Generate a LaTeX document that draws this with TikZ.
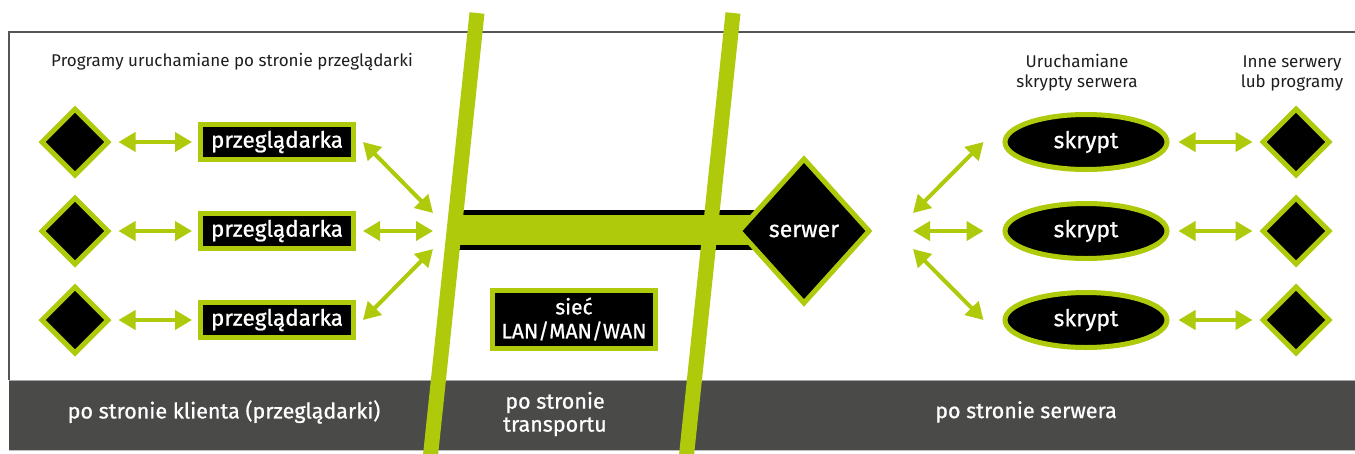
\documentclass[tikz,border=0pt]{standalone}
\usepackage{fontspec}
\setmainfont{Fira Sans}
\newfontfamily\medfont{Fira Sans}[FakeBold=0.8]
\usetikzlibrary{shapes.geometric,arrows.meta}
\definecolor{gr}{RGB}{175,202,11}
\definecolor{barg}{RGB}{74,74,73}
\definecolor{framec}{RGB}{85,85,85}
\definecolor{txtc}{RGB}{30,30,30}
\begin{document}
\begin{tikzpicture}[x=1pt,y=-1pt,
  dia/.style={diamond,fill=black,draw=gr,line width=5pt,minimum width=68pt,minimum height=68pt,inner sep=0pt},
  brow/.style={rectangle,fill=black,draw=gr,line width=5pt,minimum width=153pt,minimum height=35pt,inner sep=0pt,text=white,font=\medfont\fontsize{22.5}{24}\selectfont},
  scr/.style={ellipse,fill=black,draw=gr,line width=5pt,minimum width=162pt,minimum height=55pt,inner sep=0pt,text=white,font=\medfont\fontsize{23}{24}\selectfont},
  arr/.style={draw=gr,line width=4pt,{Triangle[width=19pt,length=17pt]}-{Triangle[width=19pt,length=17pt]}},
  lbl/.style={text=txtc,font=\fontsize{17}{20}\selectfont,align=center},
  bartxt/.style={text=white,font=\medfont\fontsize{21.5}{23}\selectfont,align=center},
  slant/.style={draw=gr,line width=15pt}
]
\useasboundingbox (0,0) rectangle (1355,453);
\fill[white] (0,0) rectangle (1355,453);
% bottom bar
\fill[barg] (9,380) rectangle (1355,450);
\draw[black!35,line width=1pt] (9,380) -- (1355,380);
\draw[black!25,line width=1pt] (9,450) -- (1355,450);
% frame
\draw[framec,line width=1.5pt] (1360,32) -- (9,32) -- (9,380);
% network bar
\draw[fill=gr,draw=black,line width=5pt] (455,212.5) rectangle (803,247.5);
% slanted separators
\draw[slant] (477,13) -- (430,460);
\draw[slant] (733,13) -- (686,460);

% labels
\node[lbl] (t1) at (232,62) {Programy uruchamiane po stronie przeglądarki};
\node[lbl] (t2) at (1077,73) {Uruchamiane\\skrypty serwera};
\node[lbl] (t3) at (1292,73) {Inne serwery\\lub programy};

% left side
\node[dia] (d1) at (75,142) {};
\node[dia] (d2) at (75,231) {};
\node[dia] (d3) at (75,320) {};
\node[brow] (b1) at (277,142) {przeglądarka};
\node[brow] (b2) at (277,231) {przeglądarka};
\node[brow] (b3) at (277,320) {przeglądarka};
\coordinate (l1) at (433,213);
\coordinate (l2) at (433,231);
\coordinate (l3) at (433,249);

% network
\node[brow,minimum width=163pt,minimum height=58pt,align=center,font=\medfont\fontsize{21}{24}\selectfont] (net) at (574,319) {sieć\\LAN/MAN/WAN};

% server
\node[dia,minimum width=132pt,minimum height=146pt,text=white,font=\medfont\fontsize{23}{24}\selectfont] (srv) at (804,231) {serwer};
\coordinate (r1) at (913,213);
\coordinate (r2) at (913,231);
\coordinate (r3) at (913,249);

% scripts
\node[scr] (s1) at (1086,142) {skrypt};
\node[scr] (s2) at (1086,231) {skrypt};
\node[scr] (s3) at (1086,320) {skrypt};
\node[dia] (e1) at (1296,142) {};
\node[dia] (e2) at (1296,231) {};
\node[dia] (e3) at (1296,320) {};

% bar texts
\node[bartxt] (p1) at (224,412) {po stronie klienta (przeglądarki)};
\node[bartxt] (p2) at (555,414) {po stronie\\transportu};
\node[bartxt] (p3) at (1026,412) {po stronie serwera};

% connectors
\foreach \i in {1,2,3}{
  \draw[arr,shorten <=7pt,shorten >=6pt] (d\i.east) -- (b\i.west);
  \draw[arr,shorten <=9pt,shorten >=7pt] (s\i.east) -- (e\i.west);
}
\draw[arr] (l1) -- ([xshift=7pt]b1.east);
\draw[arr] (l2) -- ([xshift=7pt]b2.east);
\draw[arr] (l3) -- ([xshift=7pt]b3.east);
\draw[arr] (r1) -- ([xshift=-19pt]s1.west);
\draw[arr] (r2) -- ([xshift=-19pt]s2.west);
\draw[arr] (r3) -- ([xshift=-19pt]s3.west);
\end{tikzpicture}
\end{document}
